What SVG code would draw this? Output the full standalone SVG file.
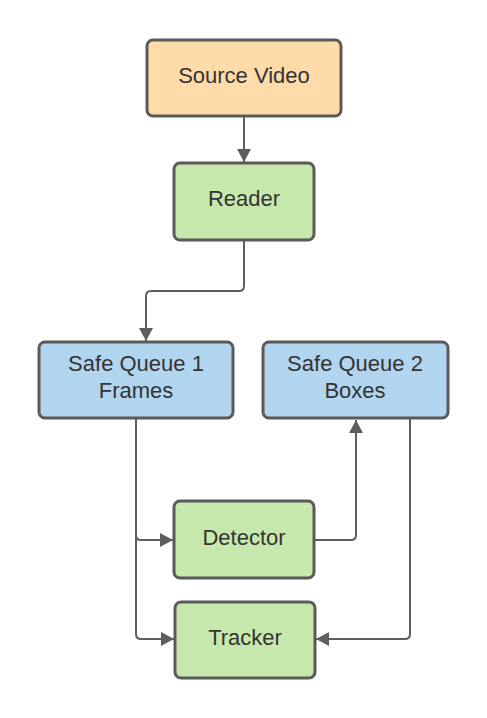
<svg xmlns="http://www.w3.org/2000/svg" width="487" height="718" viewBox="0 0 487 718">
<style>
.box{stroke:#5a5a5a;stroke-width:3}
.o{fill:#ffdba9}.g{fill:#c7e8ac}.b{fill:#b2d5ef}
.t{font-family:"Liberation Sans",Arial,sans-serif;font-size:22px;fill:#333;text-anchor:middle}
.c{fill:none;stroke:#5e5e5e;stroke-width:2;stroke-linejoin:round}
</style>
<defs>
<marker id="a" markerWidth="13" markerHeight="14" viewBox="0 0 13 14" refX="13" refY="7" orient="auto" markerUnits="userSpaceOnUse">
<path d="M0,0 L13,7 L0,14 Z" fill="#5e5e5e"/>
</marker>
</defs>
<rect width="487" height="718" fill="#fff"/>
<g id="connectors">
<path class="c" d="M244,116 V162" marker-end="url(#a)"/>
<path class="c" d="M244,240 V286 Q244,291 239,291 H151 Q146,291 146,296 V341" marker-end="url(#a)"/>
<path class="c" d="M136,418 V535 Q136,540 141,540 H173" marker-end="url(#a)"/>
<path class="c" d="M136,535 V634 Q136,639 141,639 H174" marker-end="url(#a)"/>
<path class="c" d="M314,540 H351 Q356,540 356,535 V420" marker-end="url(#a)"/>
<path class="c" d="M410,418 V634 Q410,639 405,639 H316" marker-end="url(#a)"/>
</g>
<g id="source-video"><rect class="box o" x="147" y="40" width="194" height="76" rx="6"/><text class="t" x="244" y="83">Source Video</text></g>
<g id="reader"><rect class="box g" x="174" y="163" width="140" height="77" rx="6"/><text class="t" x="244" y="206">Reader</text></g>
<g id="safe-queue-1"><rect class="box b" x="39" y="342" width="194" height="76" rx="6"/><text class="t" x="136" y="371">Safe Queue 1</text><text class="t" x="136" y="398">Frames</text></g>
<g id="safe-queue-2"><rect class="box b" x="263" y="342" width="185" height="76" rx="6"/><text class="t" x="355" y="371">Safe Queue 2</text><text class="t" x="355" y="398">Boxes</text></g>
<g id="detector"><rect class="box g" x="174" y="501" width="140" height="77" rx="6"/><text class="t" x="244" y="545">Detector</text></g>
<g id="tracker"><rect class="box g" x="175" y="602" width="140" height="76" rx="6"/><text class="t" x="245" y="645">Tracker</text></g>
</svg>
